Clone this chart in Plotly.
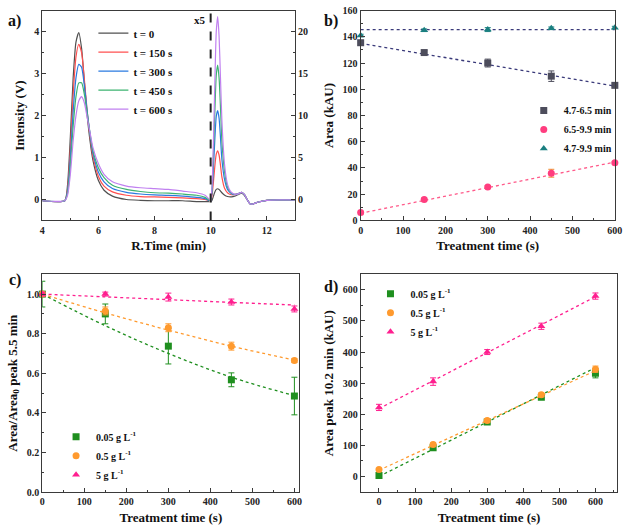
import plotly.graph_objects as go

# ---------------- Panel a data ----------------
t_left = [4.0, 4.8, 4.9, 5.0, 5.1, 5.2, 5.3, 5.4, 5.5, 5.6, 5.7, 5.8, 6.0, 6.2, 6.5, 7.0, 7.5, 8.0, 8.5, 9.0, 9.5, 9.8, 9.95]
a_left_0 = [-0.03, -0.03, 0.35, 1.5, 2.9, 3.75, 3.98, 3.6, 2.8, 2.0, 1.4, 0.95, 0.45, 0.22, 0.08, 0.0, -0.02, -0.03, -0.03, -0.03, -0.05, -0.05, -0.05]
a_left_150 = [-0.03, -0.03, 0.25, 1.2, 2.5, 3.4, 3.7, 3.5, 2.85, 2.1, 1.5, 1.05, 0.55, 0.32, 0.18, 0.1, 0.07, 0.06, 0.05, 0.04, 0.02, 0.0, -0.03]
a_left_300 = [-0.03, -0.03, 0.2, 1.0, 2.1, 2.9, 3.22, 3.15, 2.7, 2.1, 1.55, 1.12, 0.65, 0.42, 0.26, 0.17, 0.13, 0.11, 0.1, 0.08, 0.05, 0.02, -0.03]
a_left_450 = [-0.03, -0.03, 0.15, 0.8, 1.75, 2.45, 2.78, 2.78, 2.5, 2.05, 1.58, 1.18, 0.75, 0.52, 0.34, 0.24, 0.19, 0.16, 0.15, 0.13, 0.1, 0.05, -0.02]
a_left_600 = [-0.03, -0.03, 0.1, 0.6, 1.4, 2.0, 2.35, 2.45, 2.3, 1.95, 1.6, 1.25, 0.85, 0.6, 0.42, 0.32, 0.28, 0.26, 0.24, 0.2, 0.16, 0.1, 0.0]

t_right = [10.0, 10.05, 10.1, 10.15, 10.2, 10.25, 10.3, 10.35, 10.4, 10.5, 10.6, 10.7, 10.8, 10.9, 11.0, 11.1, 11.2, 11.3, 11.4, 11.5, 11.7, 12.0, 12.5, 13.0]
a_right_0 = [-0.3, -0.1, 0.4, 0.9, 1.2, 1.28, 1.2, 1.0, 0.8, 0.5, 0.35, 0.3, 0.35, 0.45, 0.6, 0.75, 0.5, 0.0, -0.5, -0.55, -0.3, -0.1, -0.05, -0.05]
a_right_150 = [-0.3, 0.5, 2.1, 4.0, 5.4, 5.8, 5.3, 4.1, 2.7, 1.3, 0.8, 0.6, 0.55, 0.6, 0.7, 0.85, 0.6, 0.0, -0.5, -0.55, -0.3, -0.1, -0.05, -0.05]
a_right_300 = [-0.3, 0.9, 3.8, 7.2, 9.9, 10.6, 9.7, 7.4, 4.8, 2.3, 1.2, 0.8, 0.6, 0.6, 0.7, 0.85, 0.6, 0.0, -0.5, -0.55, -0.3, -0.1, -0.05, -0.05]
a_right_450 = [-0.3, 1.2, 5.5, 10.5, 14.8, 16.0, 14.5, 11.0, 7.0, 3.2, 1.5, 0.9, 0.65, 0.6, 0.7, 0.85, 0.6, 0.0, -0.5, -0.55, -0.3, -0.1, -0.05, -0.05]
a_right_600 = [-0.3, 1.5, 7.0, 14.0, 20.0, 21.8, 19.5, 14.5, 9.5, 4.0, 1.8, 1.0, 0.7, 0.6, 0.7, 0.85, 0.6, 0.0, -0.5, -0.55, -0.3, -0.1, -0.05, -0.05]
a_names = ["t = 0", "t = 150 s", "t = 300 s", "t = 450 s", "t = 600 s"]

# ---------------- Panel b data ----------------
time_s = [0, 150, 300, 450, 600]
b_sq = [135.5, 128, 120, 110, 103]
b_sq_err = [1, 1.5, 3, 4, 1]
b_ci = [6, 16, 25.5, 36, 44]
b_ci_err = [1, 1, 1, 3, 1]
b_tr = [141, 145, 145.5, 146.5, 147]
b_tr_err = [1, 1, 1.5, 1, 1]
b_fit_x = [0, 600]
b_sq_fit = [135, 102.5]
b_ci_fit = [5.5, 44.5]
b_tr_fit = [145.5, 145.5]
b_names = ["4.7-6.5 min", "6.5-9.9 min", "4.7-9.9 min"]

# ---------------- Panel c data ----------------
c_g = [1.0, 0.90, 0.737, 0.567, 0.485]
c_g_err = [0.065, 0.05, 0.09, 0.035, 0.095]
c_o = [1.0, 0.915, 0.83, 0.737, 0.665]
c_o_err = [0.01, 0.02, 0.02, 0.02, 0.01]
c_p = [1.0, 1.0, 0.985, 0.96, 0.925]
c_p_err = [0.01, 0.01, 0.02, 0.015, 0.015]
c_g_fit = [1.0, 0.84, 0.70, 0.58, 0.487]
c_o_fit = [1.0, 0.905, 0.818, 0.737, 0.667]
c_p_fit = [1.0, 0.986, 0.972, 0.958, 0.945]

# ---------------- Panel d data ----------------
d_g = [3, 92, 175, 255, 332]
d_g_err = [3, 5, 6, 6, 15]
d_o = [22, 103, 180, 263, 345]
d_o_err = [3, 5, 6, 6, 10]
d_p = [222, 305, 400, 483, 580]
d_p_err = [10, 12, 8, 10, 10]
d_fit_x = [0, 600]
d_g_fit = [0, 350]
d_o_fit = [20, 340]
d_p_fit = [218, 578]
cd_names = ["0.05 g L<sup>-1</sup>", "0.5 g L<sup>-1</sup>", "5 g L<sup>-1</sup>"]

FONT = "Liberation Serif"
AX = "#3a3a3a"
fig = go.Figure()

# Panel a traces
a_cols = ["#505050", "#ff5050", "#2a7ae0", "#3cb371", "#c080f0"]
lefts = [a_left_0, a_left_150, a_left_300, a_left_450, a_left_600]
rights = [a_right_0, a_right_150, a_right_300, a_right_450, a_right_600]
for nm, col, yl, yr in zip(a_names, a_cols, lefts, rights):
    fig.add_trace(go.Scatter(x=t_left, y=yl, mode="lines", line=dict(color=col, width=1.2, shape="spline", smoothing=0.6),
                             name=nm, legend="legend", xaxis="x", yaxis="y"))
    fig.add_trace(go.Scatter(x=t_right, y=yr, mode="lines", line=dict(color=col, width=1.2, shape="spline", smoothing=0.6),
                             name=nm, showlegend=False, xaxis="x", yaxis="y2"))

# Panel b traces
b_cols = ["#4d4d5c", "#ff3d7f", "#1a7f80"]
b_errcols = ["#4d4d5c", "#f08a30", "#1a7f80"]
b_syms = ["square", "circle", "triangle-up"]
b_fitcols = ["#3a3a7a", "#ff5a8a", "#3a3a7a"]
for nm, col, ecol, sym, ys, es, fit, fcol in zip(b_names, b_cols, b_errcols, b_syms,
                                              [b_sq, b_ci, b_tr], [b_sq_err, b_ci_err, b_tr_err],
                                              [b_sq_fit, b_ci_fit, b_tr_fit], b_fitcols):
    fig.add_trace(go.Scatter(x=b_fit_x, y=fit, mode="lines", line=dict(color=fcol, width=1.3, dash="dot"),
                             showlegend=False, xaxis="x2", yaxis="y3", cliponaxis=False))
    fig.add_trace(go.Scatter(x=time_s, y=ys, mode="markers", name=nm, legend="legend2",
                             marker=dict(symbol=sym, size=7, color=col),
                             error_y=dict(type="data", array=es, color=ecol, thickness=1, width=3),
                             xaxis="x2", yaxis="y3", cliponaxis=False))

# Panel c & d traces
cd_cols = ["#1f8f1f", "#ff9a2e", "#ff1f8f"]
cd_syms = ["square", "circle", "triangle-up"]
for nm, col, sym, ys, es, fit in zip(cd_names, cd_cols, cd_syms, [c_g, c_o, c_p], [c_g_err, c_o_err, c_p_err],
                                     [c_g_fit, c_o_fit, c_p_fit]):
    fig.add_trace(go.Scatter(x=time_s, y=fit, mode="lines", line=dict(color=col, width=1.3, dash="dot", shape="spline"),
                             showlegend=False, xaxis="x3", yaxis="y4", cliponaxis=False))
    fig.add_trace(go.Scatter(x=time_s, y=ys, mode="markers", name=nm, legend="legend3",
                             marker=dict(symbol=sym, size=7, color=col),
                             error_y=dict(type="data", array=es, color=col, thickness=1, width=3),
                             xaxis="x3", yaxis="y4", cliponaxis=False))
for nm, col, sym, ys, es, fit in zip(cd_names, cd_cols, cd_syms, [d_g, d_o, d_p], [d_g_err, d_o_err, d_p_err],
                                     [d_g_fit, d_o_fit, d_p_fit]):
    fig.add_trace(go.Scatter(x=d_fit_x, y=fit, mode="lines", line=dict(color=col, width=1.3, dash="dot"),
                             showlegend=False, xaxis="x4", yaxis="y5"))
    fig.add_trace(go.Scatter(x=time_s, y=ys, mode="markers", name=nm, legend="legend4",
                             marker=dict(symbol=sym, size=7, color=col),
                             error_y=dict(type="data", array=es, color=col, thickness=1, width=3),
                             xaxis="x4", yaxis="y5"))

tickfont = dict(family=FONT, size=10, color="#222", weight="bold")
titlefont = dict(family=FONT, size=13, color="#111", weight="bold")


def ax(domain, rng, dtick, minor_dtick, title=None, anchor=None, **kw):
    d = dict(domain=domain, range=rng, dtick=dtick, showline=True, linecolor=AX, linewidth=1.2,
             mirror=True, ticks="inside", ticklen=4, tickcolor=AX, tickwidth=1,
             minor=dict(ticks="inside", ticklen=2, dtick=minor_dtick, tickcolor=AX),
             showgrid=False, zeroline=False, tickfont=tickfont, anchor=anchor)
    if title:
        d["title"] = dict(text=title, font=titlefont, standoff=6)
    d.update(kw)
    return d


W, H = 631, 532
def dx(a, b):
    return [a / W, b / W]
def dy(top, bot):
    return [1 - bot / H, 1 - top / H]

legfont = dict(family=FONT, size=10, color="#111", weight="bold")
fig.update_layout(
    width=W, height=H, margin=dict(l=0, r=0, t=0, b=0),
    paper_bgcolor="white", plot_bgcolor="white",
    font=dict(family=FONT, weight="bold"),
    xaxis=ax(dx(40, 297), [4, 13], 2, 1, "R.Time (min)", "y", tick0=4),
    yaxis=ax(dy(5.8, 220), [-0.5, 4.5], 1, 0.5, "Intensity (V)", "x", mirror=False),
    yaxis2=dict(overlaying="y", side="right", anchor="x", range=[-2.5, 22.5], dtick=5, showline=True,
                linecolor=AX, linewidth=1.2, ticks="inside", ticklen=4, tickcolor=AX,
                minor=dict(ticks="inside", ticklen=2, dtick=2.5, tickcolor=AX),
                showgrid=False, zeroline=False, tickfont=tickfont),
    xaxis2=ax(dx(364, 622.7), [0, 600], 100, 50, "Treatment time (s)", "y3"),
    yaxis3=ax(dy(5.7, 220), [0, 160], 20, 10, "Area (kAU)", "x2"),
    xaxis3=ax(dx(40, 301.7), [0, 612], 100, 50, "Treatment time (s)", "y4"),
    yaxis4=ax(dy(275, 497.3), [0, 1.1], 0.2, 0.1, "Area/Area<sub>0</sub> peak 5.5 min", "x3", tickformat=".1f"),
    xaxis4=ax(dx(364.3, 625), [-50, 660], 100, 50, "Treatment time (s)", "y5", tick0=0),
    yaxis5=ax(dy(275, 497.3), [-50, 650], 100, 50, "Area peak 10.2 min (kAU)", "x4", tick0=0),
    legend=dict(x=92 / W, y=1 - 14 / H, xanchor="left", yanchor="top", bgcolor="rgba(0,0,0,0)",
                font=dict(family=FONT, size=11, color="#111", weight="bold"), itemwidth=30),
    legend2=dict(x=530 / W, y=1 - 93 / H, xanchor="left", yanchor="top", bgcolor="rgba(0,0,0,0)",
                 font=legfont, itemwidth=30),
    legend3=dict(x=54 / W, y=1 - 426 / H, xanchor="left", yanchor="top", bgcolor="rgba(0,0,0,0)",
                 font=legfont, itemwidth=30),
    legend4=dict(x=374 / W, y=1 - 280 / H, xanchor="left", yanchor="top", bgcolor="rgba(0,0,0,0)",
                 font=legfont, itemwidth=30),
    shapes=[dict(type="line", xref="x", yref="paper", x0=10, x1=10, y0=1 - 220 / H, y1=1 - 5.8 / H,
                 line=dict(color="#222", width=2, dash="dash"))],
    annotations=[
        dict(text="x5", xref="x", yref="paper", x=9.9, y=1 - 7 / H, xanchor="right", yanchor="top",
             showarrow=False, font=dict(family=FONT, size=11, color="#111", weight="bold")),
        dict(text="a)", xref="paper", yref="paper", x=3 / W, y=1 - 5 / H, xanchor="left", yanchor="top",
             showarrow=False, font=dict(family=FONT, size=16, color="#111", weight="bold")),
        dict(text="b)", xref="paper", yref="paper", x=325 / W, y=1 - 5 / H, xanchor="left", yanchor="top",
             showarrow=False, font=dict(family=FONT, size=16, color="#111", weight="bold")),
        dict(text="c)", xref="paper", yref="paper", x=4 / W, y=1 - 270 / H, xanchor="left", yanchor="top",
             showarrow=False, font=dict(family=FONT, size=16, color="#111", weight="bold")),
        dict(text="d)", xref="paper", yref="paper", x=325 / W, y=1 - 277 / H, xanchor="left", yanchor="top",
             showarrow=False, font=dict(family=FONT, size=16, color="#111", weight="bold")),
    ],
)

fig.write_html("out.html", config={"displayModeBar": False},
               post_script="document.body.style.margin='0px';document.body.style.overflow='hidden';")
